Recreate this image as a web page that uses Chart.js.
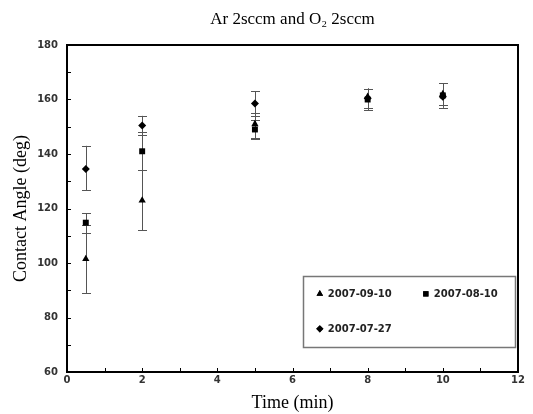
<!DOCTYPE html>
<html>
<head>
<meta charset="utf-8">
<script src="https://cdn.jsdelivr.net/npm/chart.js@4.4.1/dist/chart.umd.min.js"></script>
<style>
  html, body { margin: 0; padding: 0; background: #fff; }
  #wrap { width: 533px; height: 414px; position: relative; }
</style>
</head>
<body>
<div id="wrap"><canvas id="c" width="533" height="414"></canvas></div>
<script>
// ---- data ----
const chartTitle = "Ar 2sccm and O\u2082 2sccm";
const xTitle = "Time (min)";
const yTitle = "Contact Angle (deg)";
const times = [0.5, 2, 5, 8, 10];

const seriesLabels = ["2007-09-10", "2007-08-10", "2007-07-27"];

const angle0910 = [101.5, 123, 151, 161, 162];
const errLo0910 = [89, 112, 146, 157, 158];
const errHi0910 = [114, 134, 155, 164, 166];

const angle0810 = [114.8, 141, 149, 160, 161.5];
const errLo0810 = [111, 134, 145.5, 156, 157];
const errHi0810 = [118.2, 148, 152.5, 164, 166];

const angle0727 = [134.5, 150.5, 158.5, 160.5, 161];
const errLo0727 = [126.7, 147, 154, 157, 157];
const errHi0727 = [143, 154, 163, 164, 166];

const xTicks = [0, 2, 4, 6, 8, 10, 12];
const yTicks = [60, 80, 100, 120, 140, 160, 180];

// ---- build datasets ----
function pts(ys) { return times.map((t, i) => ({ x: t, y: ys[i] })); }
const markerStyles = ['triangle', 'rect', 'rectRot'];
const markerRadius = [4.2, 4.2, 4.0];
const allLo = [errLo0910, errLo0810, errLo0727];
const allHi = [errHi0910, errHi0810, errHi0727];
const allY = [angle0910, angle0810, angle0727];

const datasets = allY.map((ys, i) => ({
  label: seriesLabels[i],
  data: pts(ys),
  errLo: allLo[i],
  errHi: allHi[i],
  pointStyle: markerStyles[i],
  pointRadius: markerRadius[i],
  pointBackgroundColor: '#000',
  pointBorderColor: '#000',
  pointBorderWidth: 0,
  showLine: false
}));

// ---- plugins ----
const errorBars = {
  id: 'errorBars',
  beforeDatasetsDraw(chart) {
    const ctx = chart.ctx;
    const xs = chart.scales.x, ys = chart.scales.y;
    ctx.save();
    ctx.strokeStyle = '#555';
    ctx.lineWidth = 1;
    chart.data.datasets.forEach(ds => {
      ds.data.forEach((p, i) => {
        const px = Math.round(xs.getPixelForValue(p.x)) + 0.5;
        const yl = ys.getPixelForValue(ds.errLo[i]);
        const yh = ys.getPixelForValue(ds.errHi[i]);
        ctx.beginPath();
        ctx.moveTo(px, yl); ctx.lineTo(px, yh);
        ctx.moveTo(px - 4.5, Math.round(yl) + 0.5); ctx.lineTo(px + 4.5, Math.round(yl) + 0.5);
        ctx.moveTo(px - 4.5, Math.round(yh) + 0.5); ctx.lineTo(px + 4.5, Math.round(yh) + 0.5);
        ctx.stroke();
      });
    });
    ctx.restore();
  }
};

const frame = {
  id: 'frame',
  afterDraw(chart) {
    const ctx = chart.ctx;
    const a = chart.chartArea;
    const xs = chart.scales.x, ys = chart.scales.y;
    ctx.save();
    // inward ticks
    ctx.strokeStyle = '#000';
    ctx.lineWidth = 1;
    ctx.beginPath();
    for (let v = xs.min; v <= xs.max; v += 1) {
      const px = Math.round(xs.getPixelForValue(v)) + 0.5;
      ctx.moveTo(px, a.bottom); ctx.lineTo(px, a.bottom - 4);
    }
    for (let v = ys.min; v <= ys.max; v += 10) {
      const py = Math.round(ys.getPixelForValue(v)) + 0.5;
      ctx.moveTo(a.left, py); ctx.lineTo(a.left + 4, py);
    }
    ctx.stroke();
    // frame
    ctx.lineWidth = 2;
    ctx.strokeRect(a.left, a.top, a.right - a.left, a.bottom - a.top);
    // title
    ctx.fillStyle = '#000';
    ctx.font = '17px "Liberation Serif", "Times New Roman", serif';
    ctx.textAlign = 'center';
    ctx.textBaseline = 'middle';
    ctx.fillText(chart.options.plugins.customTitle.text, (a.left + a.right) / 2, 20);
    // legend box
    const bx = a.left + (a.right - a.left) * 0.524;
    const by = a.top + (a.bottom - a.top) * 0.706;
    const bw = (a.right - a.left) * 0.47;
    const bh = (a.bottom - a.top) * 0.217;
    ctx.strokeStyle = '#777';
    ctx.lineWidth = 1.5;
    ctx.strokeRect(Math.round(bx) + 0.5, Math.round(by) + 0.5, Math.round(bw), Math.round(bh));
    const pos = [[bx + 16.5, by + 18], [bx + 122.5, by + 18], [bx + 16.5, by + 53]];
    ctx.font = 'bold 10px "DejaVu Sans", sans-serif';
    ctx.textAlign = 'left';
    chart.data.datasets.forEach((ds, i) => {
      const [mx, my] = pos[i];
      Chart.helpers.drawPoint(ctx, { pointStyle: ds.pointStyle, radius: ds.pointRadius * 0.9, borderWidth: 0 }, mx, my);
      ctx.fillStyle = '#000';
      ctx.fill && ctx.fill();
      ctx.fillStyle = '#222';
      ctx.fillText(ds.label, mx + 8, my + 0.5);
    });
    ctx.restore();
  }
};

Chart.defaults.font.family = '"DejaVu Sans", sans-serif';

new Chart(document.getElementById('c'), {
  type: 'scatter',
  data: { datasets },
  options: {
    responsive: false,
    animation: false,
    layout: { padding: { top: 45, right: 15, left: 0, bottom: 0 } },
    plugins: {
      legend: { display: false },
      tooltip: { enabled: false },
      title: { display: false },
      customTitle: { text: chartTitle }
    },
    scales: {
      x: {
        type: 'linear', min: 0, max: 12,
        afterBuildTicks(s) { s.ticks = xTicks.map(v => ({ value: v })); },
        afterFit(s) { s.height = 42; s.paddingLeft = 0; s.paddingRight = 0; },
        grid: { display: false, drawTicks: false },
        border: { display: false },
        ticks: { color: '#333', font: { size: 10, weight: 'bold' }, padding: 2, maxRotation: 0 },
        title: { display: true, text: xTitle, color: '#000', padding: { top: 0, bottom: 0 },
                 font: { family: '"Liberation Serif", "Times New Roman", serif', size: 18, weight: 'normal' } }
      },
      y: {
        type: 'linear', min: 60, max: 180,
        afterBuildTicks(s) { s.ticks = yTicks.map(v => ({ value: v })); },
        afterFit(s) { s.width = 67; },
        grid: { display: false, drawTicks: false },
        border: { display: false },
        ticks: { color: '#333', font: { size: 10, weight: 'bold' }, padding: 9 },
        title: { display: true, text: yTitle, color: '#000', padding: { top: 10, bottom: 0 },
                 font: { family: '"Liberation Serif", "Times New Roman", serif', size: 18, weight: 'normal' } }
      }
    }
  },
  plugins: [errorBars, frame]
});
</script>
</body>
</html>
